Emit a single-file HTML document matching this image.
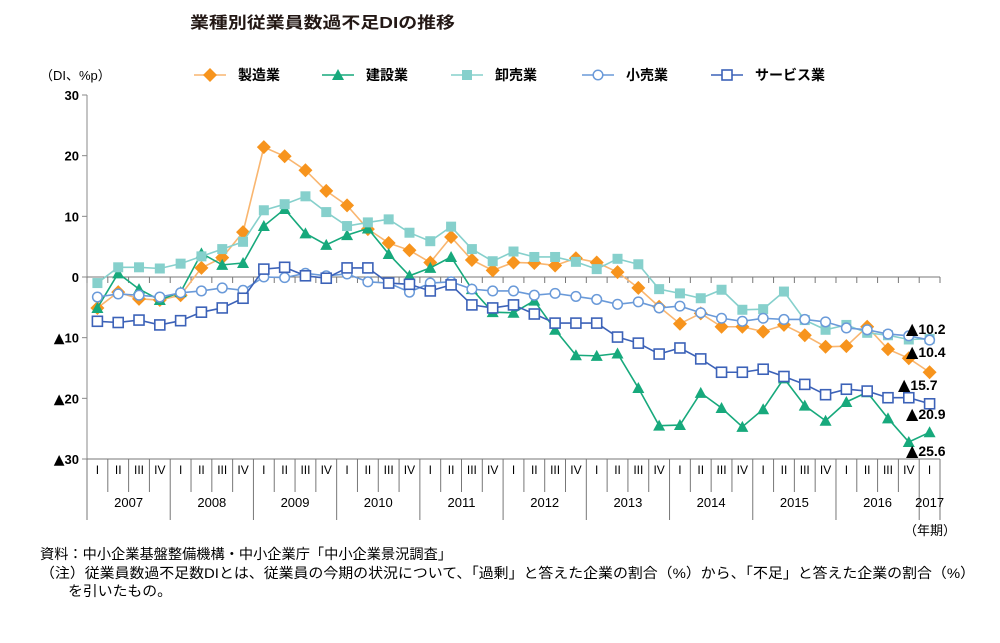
<!DOCTYPE html>
<html><head><meta charset="utf-8">
<style>
body{margin:0;background:#fff;width:1000px;height:643px;overflow:hidden;font-family:"Liberation Sans","Noto Sans CJK JP",sans-serif;color:#231815}
#chart{position:absolute;left:0;top:0}
</style></head><body>
<svg id="chart" width="1000" height="643" xmlns="http://www.w3.org/2000/svg" font-family="Liberation Sans, Noto Sans CJK JP, sans-serif">
<text x="190" y="28" font-size="16" font-weight="bold" fill="#231815" textLength="265" lengthAdjust="spacingAndGlyphs">業種別従業員数過不足DIの推移</text>
<text x="40" y="80" font-size="13">（DI、%p）</text>
<g id="legend"></g>
<g id="axes"></g>
<g id="series"></g>
<g id="endlabels"></g>
<text x="40" y="559" font-size="14" textLength="412" lengthAdjust="spacingAndGlyphs">資料：中小企業基盤整備機構・中小企業庁「中小企業景況調査」</text>
<text x="40" y="578" font-size="14" textLength="935" lengthAdjust="spacingAndGlyphs">（注）従業員数過不足数DIとは、従業員の今期の状況について、「過剰」と答えた企業の割合（%）から、「不足」と答えた企業の割合（%）</text>
<text x="68" y="596" font-size="14" textLength="104" lengthAdjust="spacingAndGlyphs">を引いたもの。</text>
</svg>
<script>
const years=["2007","2008","2009","2010","2011","2012","2013","2014","2015","2016","2017"];
const quarters=["I","II","III","IV"];
const yTicks=[30,20,10,0,-10,-20,-30];
const yTickLabels=["30","20","10","0","▲10","▲20","▲30"];
const seriesNames=["製造業","建設業","卸売業","小売業","サービス業"];
const manufacturing=[-5.1,-2.5,-3.6,-3.8,-3.0,1.5,3.2,7.4,21.4,19.9,17.6,14.2,11.8,7.9,5.6,4.4,2.4,6.6,2.8,1.1,2.4,2.3,1.9,3.1,2.4,0.8,-1.8,-4.9,-7.7,-6.0,-8.2,-8.2,-9.0,-7.9,-9.6,-11.5,-11.4,-8.2,-11.9,-13.4,-15.7];
const construction=[-5.1,0.6,-2.0,-3.8,-2.5,3.9,2.0,2.3,8.4,11.2,7.2,5.3,6.9,8.0,3.8,0.2,1.5,3.3,-2.0,-5.8,-5.9,-3.9,-8.7,-12.9,-13.0,-12.6,-18.3,-24.5,-24.4,-19.1,-21.6,-24.7,-21.8,-16.7,-21.2,-23.7,-20.6,-19.0,-23.3,-27.2,-25.6];
const wholesale=[-1.0,1.6,1.6,1.4,2.2,3.4,4.6,5.8,11.0,12.0,13.3,10.7,8.4,9.0,9.5,7.3,5.9,8.3,4.6,2.6,4.2,3.3,3.3,2.5,1.3,3.0,2.1,-2.0,-2.7,-3.5,-2.1,-5.4,-5.3,-2.4,-7.1,-8.7,-7.9,-9.2,-9.6,-10.3,-10.2];
const retail=[-3.3,-2.8,-3.0,-3.3,-2.6,-2.3,-1.8,-2.2,0.0,-0.1,0.6,0.2,0.5,-0.8,-1.0,-2.5,-1.0,-0.8,-2.0,-2.3,-2.3,-3.0,-2.7,-3.2,-3.7,-4.5,-4.1,-5.1,-4.8,-5.9,-6.8,-7.3,-6.8,-7.0,-7.0,-7.4,-8.4,-8.7,-9.4,-9.7,-10.4];
const services=[-7.3,-7.5,-7.1,-7.9,-7.2,-5.8,-5.1,-3.5,1.3,1.6,0.2,-0.2,1.5,1.5,-1.0,-1.2,-2.3,-1.3,-4.6,-5.1,-4.6,-6.1,-7.6,-7.6,-7.6,-9.9,-10.9,-12.7,-11.7,-13.5,-15.7,-15.7,-15.2,-16.4,-17.7,-19.4,-18.5,-18.8,-19.9,-19.9,-20.9];
const endLabels=["▲10.2","▲10.4","▲15.7","▲20.9","▲25.6"];

const NS="http://www.w3.org/2000/svg";
const L=87,R=940,T=95,B=459,N=41,bw=(R-L)/N;
const x=i=>L+bw*(i+0.5);
const y=v=>T+(30-v)*(B-T)/60;
function mk(tag,attrs,parent){const e=document.createElementNS(NS,tag);for(const k in attrs)e.setAttribute(k,attrs[k]);parent.appendChild(e);return e;}
function setLabel(t,str,triSize){
  if(str.startsWith('▲')){
    const a=mk('tspan',{'font-size':triSize,'font-family':'DejaVu Sans, sans-serif'},t);a.textContent='▲';
    const b=mk('tspan',{},t);b.textContent=str.slice(1);
  } else t.textContent=str;
}
const axes=document.getElementById('axes');
let e=mk('line',{x1:L,y1:T,x2:L,y2:520,stroke:'#888','stroke-width':1},axes);


yTicks.forEach((t,i)=>{
  let tk=mk('line',{x1:L-5,y1:y(t),x2:L,y2:y(t),stroke:'#888'},axes);
  
  
  let tx=mk('text',{x:L-8,y:y(t)+5,'font-size':13,'text-anchor':'end','font-weight':'bold'},axes);
  setLabel(tx,yTickLabels[i],14);
  
  
});
e=mk('line',{x1:L,y1:y(0),x2:R,y2:y(0),stroke:'#777'},axes);


e=mk('line',{x1:L,y1:B,x2:R,y2:B,stroke:'#777'},axes);


for(let i=0;i<=N;i++){
  const xx=L+bw*i;
  let t=mk('line',{x1:xx,y1:y(0),x2:xx,y2:y(0)+6,stroke:'#777'},axes);
  
  
  const isYear=(i%4===0)||i===N;
  let s=mk('line',{x1:xx,y1:B,x2:xx,y2:isYear?520:492,stroke:'#777'},axes);
  
  
}
for(let i=0;i<N;i++){
  let q=mk('text',{x:x(i),y:474,'font-size':12,'text-anchor':'middle'},axes);
  q.textContent=quarters[i%4];
  
  
}
years.forEach((yr,k)=>{
  const cx=k<10?L+bw*(4*k+2):x(40);
  let t=mk('text',{x:cx,y:507,'font-size':13,'text-anchor':'middle'},axes);
  t.textContent=yr;
  
  
});
e=mk('text',{x:930,y:535,'font-size':13,'text-anchor':'middle'},axes);
e.textContent="（年期）";



const styles=[
 {data:manufacturing,line:'#f9b670',mark:'#f7941d',shape:'diamond',name:'manufacturing'},
 {data:construction,line:'#17a97c',mark:'#17a97c',shape:'triangle',name:'construction'},
 {data:wholesale,line:'#86d0cc',mark:'#86d0cc',shape:'square',name:'wholesale'},
 {data:retail,line:'#6a9ad9',mark:'#6a9ad9',shape:'circle',name:'retail'},
 {data:services,line:'#3c62b8',mark:'#3c62b8',shape:'opensquare',name:'services'}
];
function marker(shape,cx,cy,col,parent){
  let m;
  if(shape==='diamond')m=mk('polygon',{points:`${cx},${cy-7} ${cx+7},${cy} ${cx},${cy+7} ${cx-7},${cy}`,fill:col},parent);
  else if(shape==='triangle')m=mk('polygon',{points:`${cx},${cy-6} ${cx+6},${cy+5} ${cx-6},${cy+5}`,fill:col},parent);
  else if(shape==='square')m=mk('rect',{x:cx-5,y:cy-5,width:10,height:10,fill:col},parent);
  else if(shape==='circle')m=mk('circle',{cx:cx,cy:cy,r:4.8,fill:'#fff',stroke:col,'stroke-width':1.5},parent);
  else m=mk('rect',{x:cx-5,y:cy-5,width:10,height:10,fill:'#fff',stroke:col,'stroke-width':1.6},parent);
  return m;
}
const sg=document.getElementById('series');
styles.forEach(s=>{
  const g=mk('g',{},sg);
  
  
  const p=mk('polyline',{points:s.data.map((v,i)=>x(i)+','+y(v)).join(' '),fill:'none',stroke:s.line,'stroke-width':1.6},g);
  
  
  s.data.forEach((v,i)=>{
    const m=marker(s.shape,x(i),y(v),s.mark,g);
    
    
  });
});
const lg=document.getElementById('legend');
const lx=[210,338,467,598,727];
styles.forEach((s,i)=>{
  const g=mk('g',{},lg);
  
  
  mk('line',{x1:lx[i]-16,y1:75,x2:lx[i]+16,y2:75,stroke:s.line,'stroke-width':1.6},g);
  marker(s.shape,lx[i],75,s.mark,g);
  const t=mk('text',{x:lx[i]+28,y:80,'font-size':14,'font-weight':'bold'},g);
  t.textContent=seriesNames[i];
});
const el=document.getElementById('endlabels');
const ely=[334,357,390,419,456],elx=[906,906,898,906,906];
endLabels.forEach((t,i)=>{
  const tx=mk('text',{x:elx[i],y:ely[i],'font-size':14,'font-weight':'bold'},el);
  setLabel(tx,t,16);
  
  
});
</script>
</body></html>
